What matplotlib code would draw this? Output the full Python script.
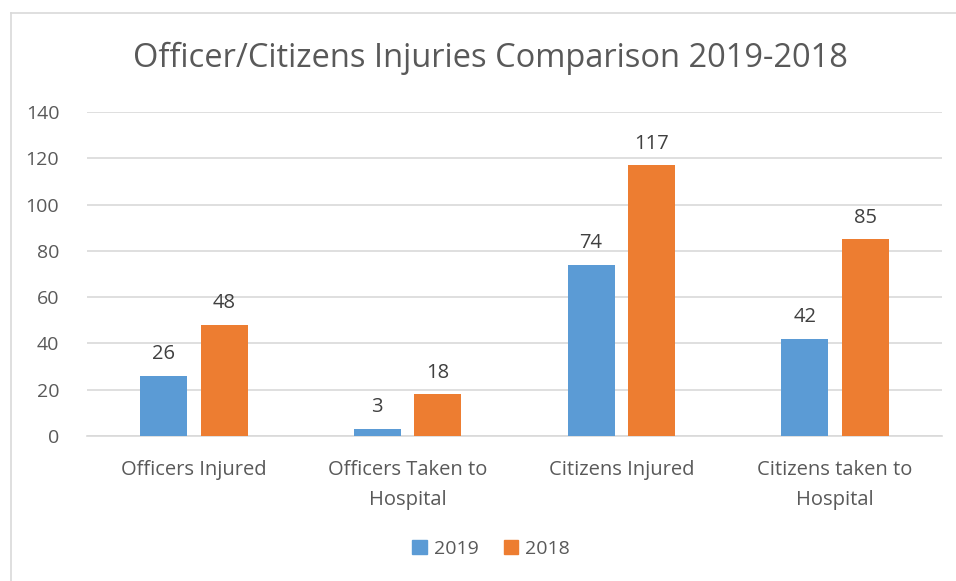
import numpy as np
import matplotlib
matplotlib.use('Agg')
import matplotlib.pyplot as plt
from matplotlib.lines import Line2D
from matplotlib.patches import Patch

# --- data
categories = ['Officers Injured', 'Officers Taken to\nHospital', 'Citizens Injured', 'Citizens taken to\nHospital']
v2019 = [26, 3, 74, 42]
v2018 = [48, 18, 117, 85]
series = ['2019', '2018']
colors = ['#5B9BD5', '#ED7D31']
yticks = [0, 20, 40, 60, 80, 100, 120, 140]

plt.rcParams['font.family'] = ['Open Sans', 'DejaVu Sans']
txt = '#595959'

fig = plt.figure(figsize=(9.56, 5.81), dpi=100)
ax = fig.add_axes([87/956, 1-436/581, (942-87)/956, (436-112)/581])

x = np.arange(len(categories))
w = 0.22
off = 0.142
b1 = ax.bar(x - off, v2019, w, color=colors[0], zorder=3)
b2 = ax.bar(x + off, v2018, w, color=colors[1], zorder=3)

for bars in (b1, b2):
    for r in bars:
        ax.text(r.get_x() + r.get_width()/2, r.get_height() + 5, f'{int(r.get_height())}',
                ha='center', va='bottom', fontsize=14.5, color='#404040')

ax.set_xlim(-0.5, len(categories) - 0.5)
ax.set_ylim(0, 140)
ax.set_yticks(yticks)
ax.yaxis.grid(True, color='#D9D9D9', lw=1.2, zorder=0)
ax.set_xticks(x)
ax.set_xticklabels(categories, fontsize=14.5, color=txt, linespacing=1.7)
ax.tick_params(axis='y', labelsize=14, labelcolor=txt, length=0, pad=20)
ax.tick_params(axis='x', length=0, pad=17)
for s in ['top', 'right', 'left']:
    ax.spines[s].set_visible(False)
ax.spines['bottom'].set_color('#D9D9D9')
ax.spines['bottom'].set_linewidth(1.2)

fig.text(491/956, 1-58/581, 'Officer/Citizens Injuries Comparison 2019-2018',
         ha='center', va='center', fontsize=23.5, color=txt)

handles = [Patch(color=c) for c in colors]
fig.legend(handles, series, loc='center', bbox_to_anchor=(491/956, 1-549/581), ncol=2,
           frameon=False, fontsize=14, labelcolor=txt, handlelength=0.75, handleheight=0.75,
           handletextpad=0.35, columnspacing=1.3)

# chart border (left and top visible)
fig.add_artist(Line2D([11/956, 11/956], [0, 1-13/581], color='#D9D9D9', lw=1.2))
fig.add_artist(Line2D([11/956, 1], [1-13/581, 1-13/581], color='#D9D9D9', lw=1.2))

fig.savefig('out.png', dpi=100)
